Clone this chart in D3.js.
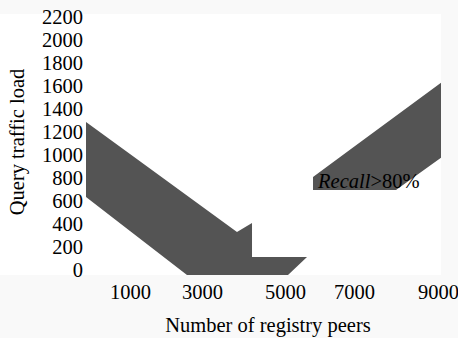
<!DOCTYPE html>
<html>
<head>
<meta charset="utf-8">
<script src="https://cdn.jsdelivr.net/npm/d3@7"></script>
<style>
  html, body { margin: 0; padding: 0; background: #f9f9f9; }
  svg { display: block; }
  text { font-family: "Liberation Serif", "Times New Roman", serif; fill: #000; }
</style>
</head>
<body>
<svg id="chart" width="458" height="338"></svg>
<script>
// ---- data ----
const xTicks = [1000, 3000, 5000, 7000, 9000];
const yTicks = [0, 200, 400, 600, 800, 1000, 1200, 1400, 1600, 1800, 2000, 2200];

// left dark region (arrow-shaped band), vertices in data units
const bandAX = [-222, 1000, 3000, 3843, 4205, 4205, 5638, 5087, 2583, 1000, -222];
const bandAY = [1287, 1008, 552, 330, 409, 113, 113, -43, -43, 339, 635];

// right dark region (Recall > 80%), vertices in data units
const bandBX = [5812, 7000, 9095, 9095, 8000, 5812];
const bandBY = [809, 1071, 1635, 983, 696, 696];

const annotation = { x: 5957, y: 713, italic: "Recall", rest: ">80%" };
const xTitle = "Number of registry peers";
const yTitle = "Query traffic load";

// ---- layout ----
const SERIF = "Liberation Serif, Times New Roman, serif";
const svg = d3.select("#chart");
const plot = { left: 0, top: 14, right: 441, bottom: 275 };
const axisLeftX = 86;

const x = d3.scaleLinear()
  .domain(xTicks)
  .range([130, 202, 285, 354, 438]);
const y = d3.scaleLinear()
  .domain([0, 2200])
  .range([270, 17]);

// plot background
svg.append("rect")
  .attr("x", plot.left).attr("y", plot.top)
  .attr("width", plot.right - plot.left)
  .attr("height", plot.bottom - plot.top)
  .attr("fill", "#ffffff");

svg.append("clipPath").attr("id", "clip")
  .append("rect")
  .attr("x", axisLeftX).attr("y", plot.top)
  .attr("width", plot.right - axisLeftX)
  .attr("height", plot.bottom - plot.top);

const toPts = (xs, ys) => xs.map((v, i) => [x(v), y(ys[i])]);
const line = d3.line().curve(d3.curveLinearClosed);

const g = svg.append("g").attr("clip-path", "url(#clip)");
g.append("path")
  .attr("d", line(toPts(bandAX, bandAY)))
  .attr("fill", "#545454");
g.append("path")
  .attr("d", line(toPts(bandBX, bandBY)))
  .attr("fill", "#545454");

// annotation
const ann = svg.append("text")
  .attr("x", x(annotation.x))
  .attr("y", y(annotation.y))
  .attr("font-family", SERIF)
  .style("font-size", "20.5px");
ann.append("tspan").style("font-style", "italic").text(annotation.italic);
ann.append("tspan").text(annotation.rest);

// axes
const yAxis = d3.axisLeft(y).tickValues(yTicks).tickSize(0).tickPadding(3)
  .tickFormat(d3.format("d"));
const ya = svg.append("g").attr("transform", `translate(${axisLeftX},0)`).call(yAxis);
ya.attr("font-family", SERIF).attr("font-size", 20.5);
ya.select(".domain").remove();
ya.selectAll("text").attr("font-family", SERIF).attr("fill", "#000");

const xAxis = d3.axisBottom(x).tickValues(xTicks).tickSize(0).tickPadding(9)
  .tickFormat(d3.format("d"));
const xa = svg.append("g").attr("transform", `translate(0,${plot.bottom})`).call(xAxis);
xa.attr("font-family", SERIF).attr("font-size", 20.5);
xa.select(".domain").remove();
xa.selectAll("text").attr("font-family", SERIF).attr("fill", "#000");

// axis titles
svg.append("text")
  .attr("x", 268).attr("y", 332)
  .attr("text-anchor", "middle")
  .attr("font-family", SERIF)
  .style("font-size", "20.5px")
  .text(xTitle);

svg.append("text")
  .attr("transform", "translate(24,142) rotate(-90)")
  .attr("text-anchor", "middle")
  .attr("font-family", SERIF)
  .style("font-size", "20.5px")
  .text(yTitle);
</script>
</body>
</html>
